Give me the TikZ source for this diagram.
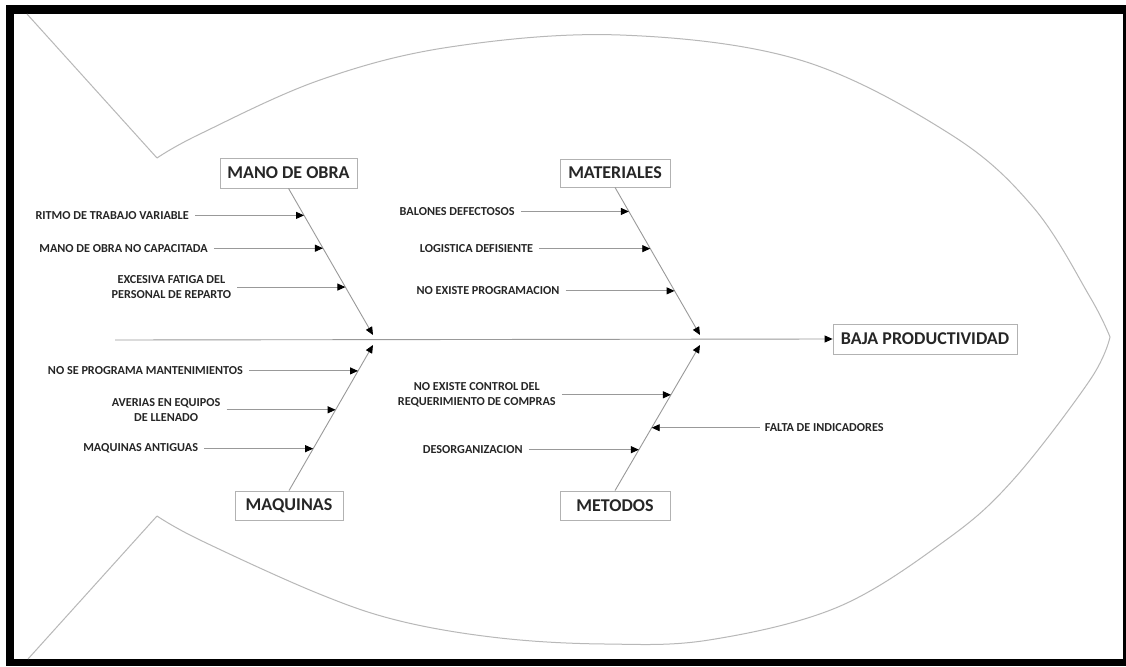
\documentclass[tikz,border=0pt]{standalone}
\usepackage{fontspec}
\setmainfont{Carlito}
\usetikzlibrary{calc}
\usetikzlibrary{arrows.meta}
\tikzstyle{causa}=[font=\fontsize{12.2}{14.5}\selectfont\bfseries,text=black!85,inner sep=0pt,align=center]
\tikzstyle{categoria}=[draw=black!30,line width=0.8pt,font=\fontsize{18}{20}\selectfont\bfseries,text=black!85,inner sep=0pt]
\tikzstyle{flecha}=[draw=black!40,line width=0.9pt,-{Triangle[length=8pt,width=7pt,black]}]
\tikzstyle{pez}=[draw=black!28,line width=1pt]

\begin{document}
\begin{tikzpicture}[x=1pt,y=-1pt]
	\useasboundingbox (0,0) rectangle (1126,666);
	% marco
	\fill[black] (6,5) rectangle (1126,666);
	\fill[white] (14,14) rectangle (1123,659);

	% contorno del pez
	\coordinate (colaA) at (27,14);
	\coordinate (colaB) at (28,659);
	\coordinate (V1) at (157,158);
	\coordinate (V2) at (157,516);
	\coordinate (nariz) at (1110,337);
	\draw[pez] (colaA)--(V1);
	\draw[pez] (colaB)--(V2);
	\draw[pez] plot[smooth,tension=0.6] coordinates {(157,158) (200,134) (320,80) (450,47) (620,35) (800,60) (950,134) (1033,207) (1090,297) (1110,337)};
	\draw[pez] plot[smooth,tension=0.6] coordinates {(157,516) (200,540) (317,593) (400,621) (500,638) (605,644) (709,640) (838,607) (946,540) (1013,480) (1090,380) (1110,337)};

	% categorias
	\node[categoria,minimum width=137pt,minimum height=30pt] (mano) at (288.5,173) {MANO DE OBRA};
	\node[categoria,minimum width=110pt,minimum height=28pt] (mat) at (615,173) {MATERIALES};
	\node[categoria,minimum width=108pt,minimum height=29pt] (maq) at (289,505.5) {MAQUINAS};
	\node[categoria,minimum width=110pt,minimum height=29pt] (met) at (615,505.5) {METODOS};
	\node[categoria,minimum width=184pt,minimum height=30pt] (efecto) at (925,339) {BAJA PRODUCTIVIDAD};

	% espina
	\coordinate (cola) at (115,340);
	\draw[flecha] (cola)--(efecto.west);
	\coordinate (m1) at (373,335);
	\coordinate (m2) at (373,345);
	\coordinate (m3) at (700,335);
	\coordinate (m4) at (700,345);
	\draw[flecha] (mano.south)--(m1);
	\draw[flecha] (maq.north)--(m2);
	\draw[flecha] (mat.south)--(m3);
	\draw[flecha] (met.north)--(m4);

	% puntos sobre las espinas
	\coordinate (t1) at ($(mano.south)!0.184!(m1)$);
	\coordinate (t2) at ($(mano.south)!0.408!(m1)$);
	\coordinate (t3) at ($(mano.south)!0.673!(m1)$);
	\coordinate (t4) at ($(maq.north)!0.822!(m2)$);
	\coordinate (t5) at ($(maq.north)!0.555!(m2)$);
	\coordinate (t6) at ($(maq.north)!0.288!(m2)$);
	\coordinate (t7) at ($(mat.south)!0.163!(m3)$);
	\coordinate (t8) at ($(mat.south)!0.415!(m3)$);
	\coordinate (t9) at ($(mat.south)!0.701!(m3)$);
	\coordinate (t10) at ($(met.north)!0.658!(m4)$);
	\coordinate (t11) at ($(met.north)!0.432!(m4)$);
	\coordinate (t12) at ($(met.north)!0.281!(m4)$);

	% causas
	\node[causa,anchor=east] (c1) at ([xshift=-115pt]t1) {RITMO DE TRABAJO VARIABLE};
	\node[causa,anchor=east] (c2) at ([xshift=-115pt]t2) {MANO DE OBRA NO CAPACITADA};
	\node[causa,anchor=east] (c3) at ([xshift=-114pt]t3) {EXCESIVA FATIGA DEL\\PERSONAL DE REPARTO};
	\node[causa,anchor=east] (c4) at ([xshift=-115pt]t4) {NO SE PROGRAMA MANTENIMIENTOS};
	\node[causa,anchor=east] (c5) at ([xshift=-115pt]t5) {AVERIAS EN EQUIPOS\\DE LLENADO};
	\node[causa,anchor=east] (c6) at ([xshift=-115pt]t6) {MAQUINAS ANTIGUAS};
	\node[causa,anchor=east] (c7) at ([xshift=-114pt]t7) {BALONES DEFECTOSOS};
	\node[causa,anchor=east] (c8) at ([xshift=-117pt]t8) {LOGISTICA DEFISIENTE};
	\node[causa,anchor=east] (c9) at ([xshift=-115pt]t9) {NO EXISTE PROGRAMACION};
	\node[causa,anchor=east] (c10) at ([xshift=-115pt]t10) {NO EXISTE CONTROL DEL\\REQUERIMIENTO DE COMPRAS};
	\node[causa,anchor=west] (c11) at ([xshift=113pt]t11) {FALTA DE INDICADORES};
	\node[causa,anchor=east] (c12) at ([xshift=-116pt]t12) {DESORGANIZACION};

	\foreach \i in {1,...,10,12}
		\draw[flecha,shorten <=6pt] (c\i.east)--(t\i);
	\draw[flecha,shorten <=5pt] (c11.west)--(t11);
\end{tikzpicture}
\end{document}
